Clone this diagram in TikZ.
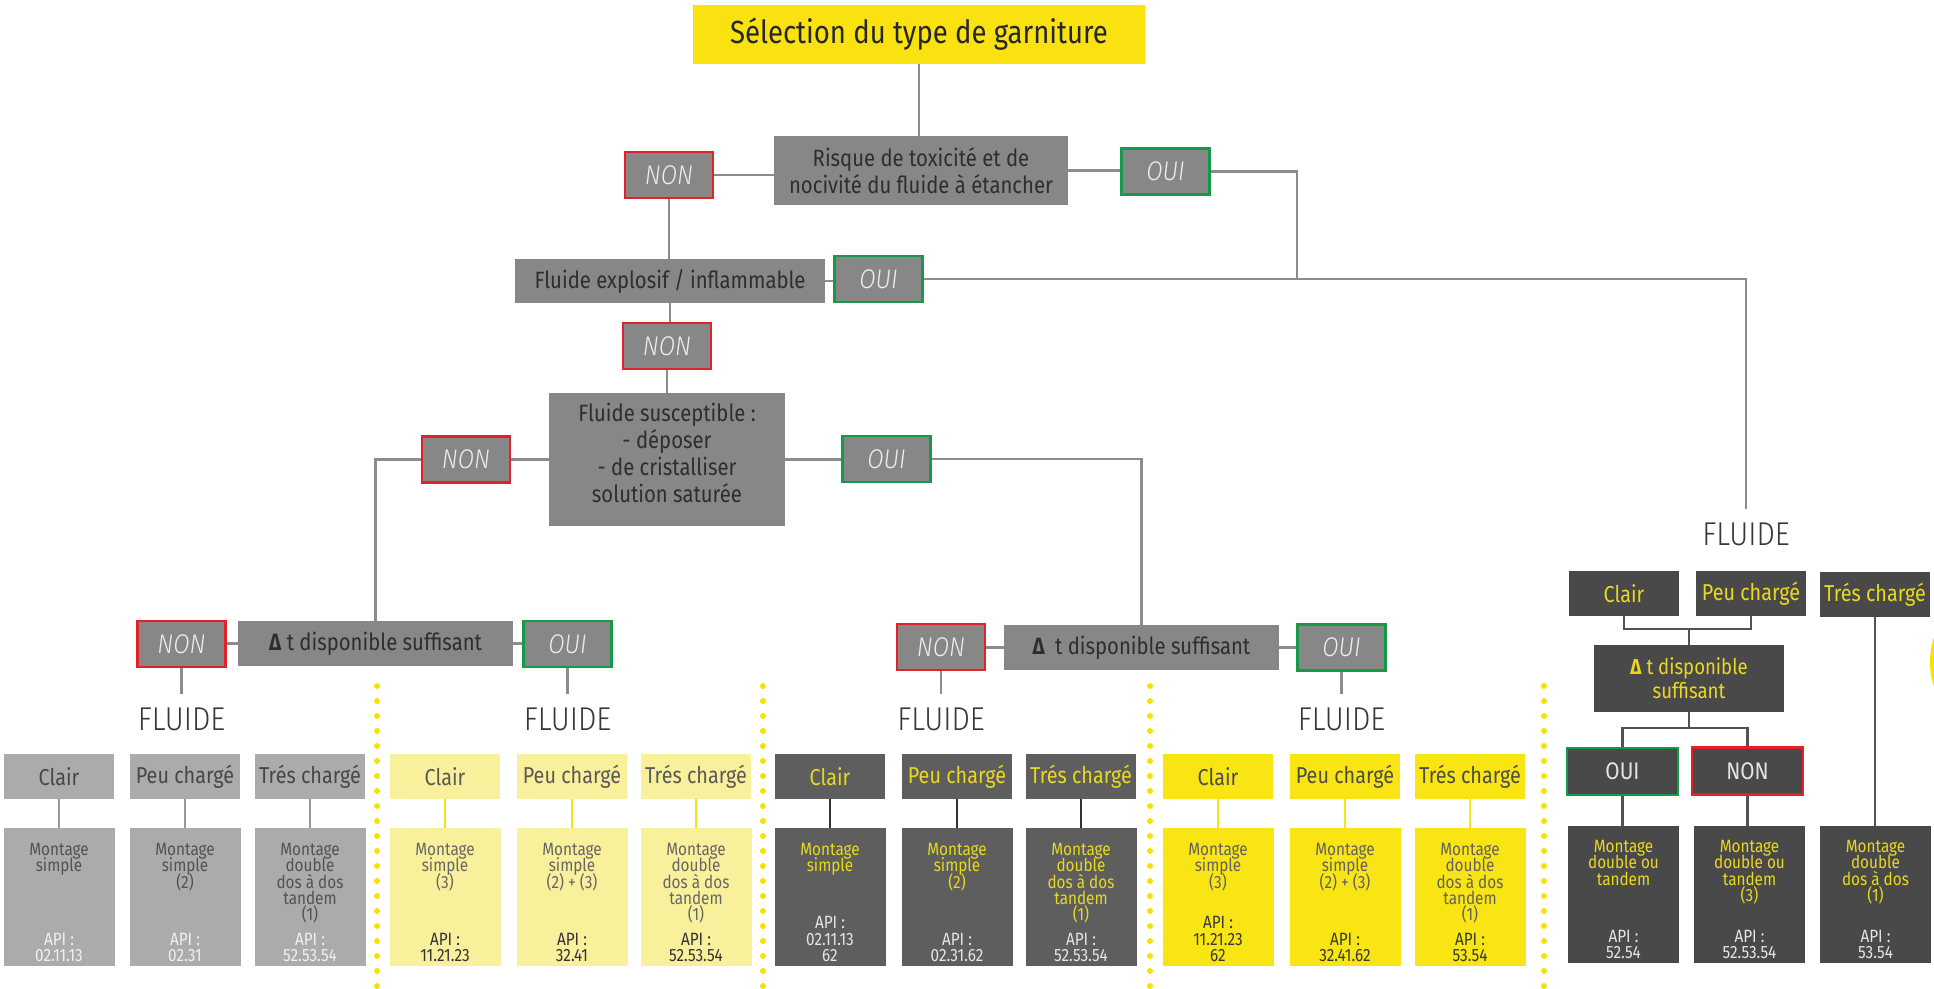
\documentclass[tikz,border=0pt]{standalone}
\usepackage{fontspec}
\IfFontExistsTF{Fira Sans Book}
  {\setmainfont{Fira Sans Book}[FakeStretch=0.86, BoldFont={Fira Sans Bold}]}
  {\setmainfont{Fira Sans}[FakeStretch=0.86]}
\IfFontExistsTF{Fira Sans Light}
  {\newfontfamily\thinfont{Fira Sans Light}[FakeStretch=0.88]}
  {\newfontfamily\thinfont{Fira Sans}[FakeStretch=0.88]}
\usetikzlibrary{calc}

\definecolor{ttl}{HTML}{F9E20F}
\definecolor{dec}{HTML}{878787}
\definecolor{dectxt}{HTML}{2E2E2E}
\definecolor{conn}{HTML}{8C8C8C}
\definecolor{nored}{HTML}{E42128}
\definecolor{okgreen}{HTML}{17994A}
\definecolor{lgray}{HTML}{ABABAB}
\definecolor{pale}{HTML}{F8F09B}
\definecolor{mgray}{HTML}{5E5E5E}
\definecolor{bright}{HTML}{F8E513}
\definecolor{dgray}{HTML}{494949}
\definecolor{ytxt}{HTML}{E9D91E}
\definecolor{dots}{HTML}{F8E000}

% one fluid column: label box, connector, assembly box with its texts
\newcommand{\colpair}[6]{%
  \node[#2lab] (#1l) at (#3,776.5) {#4};
  \node[#2mont] (#1m) at (#3,897) {};
  \draw[#2link] (#1l.south) -- (#1m.north);
  \node[#2mt] (#1t) at (#3,843) {#5};
  \node[#2at] (#1a) at (#3,962) {#6};
}

\tikzset{
  box/.style={rectangle, inner sep=0pt, align=center},
  titlebox/.style={box, fill=ttl, text=black!85, minimum width=226pt, minimum height=29.5pt,
    font=\fontsize{16}{19}\selectfont},
  decision/.style={box, fill=dec, text=dectxt, font=\fontsize{11.8}{13.5}\selectfont},
  answer/.style={box, fill=dec, line width=1.1pt, text=white!93!black,
    minimum width=44pt, minimum height=23pt, font=\fontsize{13.5}{15}\thinfont\itshape},
  nonbox/.style={answer, draw=nored},
  ouibox/.style={answer, draw=okgreen},
  fluide/.style={inner sep=0pt, text height=11.5pt, text depth=0pt, outer ysep=6.5pt,
    text=black!78, font=\fontsize{16.5}{19}\thinfont},
  link/.style={draw=conn, line width=1.25pt},
  dotline/.style={draw=dots, line width=3pt, line cap=round, dash pattern=on 0pt off 7.5pt},
  lab/.style={box, minimum width=55pt, minimum height=22.5pt, font=\fontsize{11.5}{13}\selectfont},
  mont/.style={box, minimum width=55.5pt, minimum height=69pt},
  mtxt/.style={inner sep=0pt, align=center, anchor=north, font=\fontsize{8.9}{8.1}\selectfont},
  atxt/.style={inner sep=0pt, align=center, anchor=south, font=\fontsize{8.9}{8.1}\selectfont},
  % light grey family
  g1lab/.style={lab, fill=lgray, text=black!72},
  g1mont/.style={mont, fill=lgray},
  g1link/.style={draw=black!40, line width=1.25pt},
  g1mt/.style={mtxt, text=black!68},
  g1at/.style={atxt, text=white!94!black},
  % pale yellow family
  g2lab/.style={lab, fill=pale, text=black!65},
  g2mont/.style={mont, fill=pale},
  g2link/.style={draw=ttl, line width=1.25pt},
  g2mt/.style={mtxt, text=black!60},
  g2at/.style={atxt, text=black!80},
  % mid grey family
  g3lab/.style={lab, fill=mgray, text=ytxt},
  g3mont/.style={mont, fill=mgray},
  g3link/.style={draw=black!80, line width=1.25pt},
  g3mt/.style={mtxt, text=ytxt},
  g3at/.style={atxt, text=white!90!black},
  % bright yellow family
  g4lab/.style={lab, fill=bright, text=black!70},
  g4mont/.style={mont, fill=bright},
  g4link/.style={draw=bright, line width=1.25pt},
  g4mt/.style={mtxt, text=black!62},
  g4at/.style={atxt, text=black!78},
  % dark grey family
  g5lab/.style={lab, fill=dgray, text=ytxt},
  g5mont/.style={box, fill=dgray, minimum width=55.5pt, minimum height=68.5pt},
  g5link/.style={draw=black!68, line width=1.25pt},
  g5mt/.style={mtxt, text=ytxt},
  g5at/.style={atxt, text=white!90!black},
  g5ans/.style={box, fill=dgray, line width=1.1pt, text=white!90!black,
    minimum width=55.5pt, minimum height=23.5pt, font=\fontsize{12}{14}\selectfont},
}

\begin{document}
\lineskiplimit=-5pt
\begin{tikzpicture}[x=0.5pt,y=-0.5pt]
\useasboundingbox (0,0) rectangle (1934,989);
\fill[white] (0,0) rectangle (1934,989);

% decision chain
\node[titlebox] (title) at (919,34.5) {Sélection du type de garniture};
\node[decision, minimum width=147pt, minimum height=34.5pt] (risk) at (921,170.5)
  {Risque de toxicité et de\\nocivité du fluide à étancher};
\node[nonbox] (n1) at (669,175) {NON};
\node[ouibox] (o1) at (1165.5,171.5) {OUI};
\node[decision, minimum width=155pt, minimum height=22pt] (expl) at (670,281)
  {Fluide explosif / inflammable};
\node[ouibox] (o2) at (878.5,279) {OUI};
\node[nonbox] (n2) at (667,346) {NON};
\node[decision, minimum width=118pt, minimum height=66.5pt, text depth=7pt] (depo) at (667,459.5)
  {Fluide susceptible :\\- déposer\\- de cristalliser\\solution saturée};
\node[nonbox] (n3) at (466,459.5) {NON};
\node[ouibox] (o3) at (886.5,459) {OUI};
\node[decision, minimum width=137.5pt, minimum height=22.5pt] (dt1) at (375.5,643.5)
  {\textbf{Δ} t disponible suffisant};
\node[nonbox] (n4) at (181.5,644) {NON};
\node[ouibox] (o4) at (567.5,644) {OUI};
\node[decision, minimum width=137.5pt, minimum height=22.5pt] (dt2) at (1141.5,647.5)
  {\textbf{Δ}\hspace{5pt}t disponible suffisant};
\node[nonbox] (n5) at (941,647) {NON};
\node[ouibox] (o5) at (1341.5,647.5) {OUI};

\node[fluide] (f1) at (181.5,718.5) {FLUIDE};
\node[fluide] (f2) at (567.5,718.5) {FLUIDE};
\node[fluide] (f3) at (941,718.5) {FLUIDE};
\node[fluide] (f4) at (1341.5,718.5) {FLUIDE};
\node[fluide] (f5) at (1746,534) {FLUIDE};

\coordinate (j1) at (1297,279);

\draw[link] (title.south) -- (title.south |- risk.north);
\draw[link] (n1.east) -- (n1.east -| risk.west);
\draw[link] (risk.east) -- (risk.east -| o1.west);
\draw[link] (o1.east) -| (j1);
\draw[link] (n1.south) -- (n1.south |- expl.north);
\draw[link] (expl.east) -- (expl.east -| o2.west);
\draw[link] (o2.east) -| (f5.north);
\draw[link] (expl.south) -- (expl.south |- n2.north);
\draw[link] (n2.south) -- (n2.south |- depo.north);
\draw[link] (depo.west) -- (depo.west -| n3.east);
\draw[link] (n3.west) -| (dt1.north);
\draw[link] (depo.east) -- (depo.east -| o3.west);
\draw[link] (o3.east) -| (dt2.north);
\draw[link] (dt1.west) -- (dt1.west -| n4.east);
\draw[link] (dt1.east) -- (dt1.east -| o4.west);
\draw[link] (dt2.west) -- (dt2.west -| n5.east);
\draw[link] (dt2.east) -- (dt2.east -| o5.west);
\draw[link] (n4.south) -- (n4.south |- f1.north);
\draw[link] (o4.south) -- (o4.south |- f2.north);
\draw[link] (n5.south) -- (n5.south |- f3.north);
\draw[link] (o5.south) -- (o5.south |- f4.north);

% separators
\draw[dotline] (377,686) -- (377,989);
\draw[dotline] (763,686) -- (763,989);
\draw[dotline] (1150,686) -- (1150,989);
\draw[dotline] (1544,686) -- (1544,989);

% fluid columns
\colpair{a1}{g1}{59}{Clair}{Montage\\simple}{API :\\02.11.13}
\colpair{a2}{g1}{185}{Peu chargé}{Montage\\simple\\(2)}{API :\\02.31}
\colpair{a3}{g1}{310}{Trés chargé}{Montage\\double\\dos à dos\\tandem\\(1)}{API :\\52.53.54}

\colpair{b1}{g2}{445}{Clair}{Montage\\simple\\(3)}{API :\\11.21.23}
\colpair{b2}{g2}{572}{Peu chargé}{Montage\\simple\\(2) + (3)}{API :\\32.41}
\colpair{b3}{g2}{696}{Trés chargé}{Montage\\double\\dos à dos\\tandem\\(1)}{API :\\52.53.54}

\colpair{c1}{g3}{830}{Clair}{Montage\\simple}{API :\\02.11.13\\62}
\colpair{c2}{g3}{957}{Peu chargé}{Montage\\simple\\(2)}{API :\\02.31.62}
\colpair{c3}{g3}{1081}{Trés chargé}{Montage\\double\\dos à dos\\tandem\\(1)}{API :\\52.53.54}

\colpair{d1}{g4}{1218}{Clair}{Montage\\simple\\(3)}{API :\\11.21.23\\62}
\colpair{d2}{g4}{1345}{Peu chargé}{Montage\\simple\\(2) + (3)}{API :\\32.41.62}
\colpair{d3}{g4}{1470}{Trés chargé}{Montage\\double\\dos à dos\\tandem\\(1)}{API :\\53.54}

% toxic / explosive branch
\node[g5lab] (e1) at (1624,593.5) {Clair};
\node[g5lab] (e2) at (1751,593.5) {Peu chargé};
\node[g5lab] (e3) at (1875,594.5) {Trés chargé};
\node[box, fill=dgray, text=ytxt, minimum width=95pt, minimum height=33.5pt,
  font=\fontsize{10.8}{12}\selectfont] (dt3) at (1689,678.5) {\textbf{Δ} t disponible\\suffisant};
\node[g5ans, draw=okgreen] (o6) at (1622.5,771.5) {OUI};
\node[g5ans, draw=nored] (n6) at (1747.5,771) {NON};
\node[g5mont] (em1) at (1623.5,894.5) {};
\node[g5mont] (em2) at (1749.5,894.5) {};
\node[g5mont] (em3) at (1875.5,894.5) {};
\node[g5mt] (et1) at (1623.5,840) {Montage\\double ou\\tandem};
\node[g5mt] (et2) at (1749.5,840) {Montage\\double ou\\tandem\\(3)};
\node[g5mt] (et3) at (1875.5,840) {Montage\\double\\dos à dos\\(1)};
\node[g5at] (ea1) at (1623.5,959) {API :\\52.54};
\node[g5at] (ea2) at (1749.5,959) {API :\\52.53.54};
\node[g5at] (ea3) at (1875.5,959) {API :\\53.54};

\coordinate (b1) at (1689,629);
\coordinate (b2) at (1689,728);
\draw[g5link] (e1.south) |- (b1) -| (e2.south);
\draw[g5link] (b1) -- (dt3.north);
\draw[g5link] (dt3.south) -- (b2);
\draw[g5link] (o6.north) |- (b2) -| (n6.north);
\draw[g5link] (o6.south) -- (o6.south |- em1.north);
\draw[g5link] (n6.south) -- (n6.south |- em2.north);
\draw[g5link] (e3.south) -- (e3.south |- em3.north);

% yellow disc cut by the right edge
\begin{scope}
  \clip (0,0) rectangle (1934,989);
  \fill[dots] (2010,662) circle[radius=40pt];
\end{scope}
\end{tikzpicture}
\end{document}
